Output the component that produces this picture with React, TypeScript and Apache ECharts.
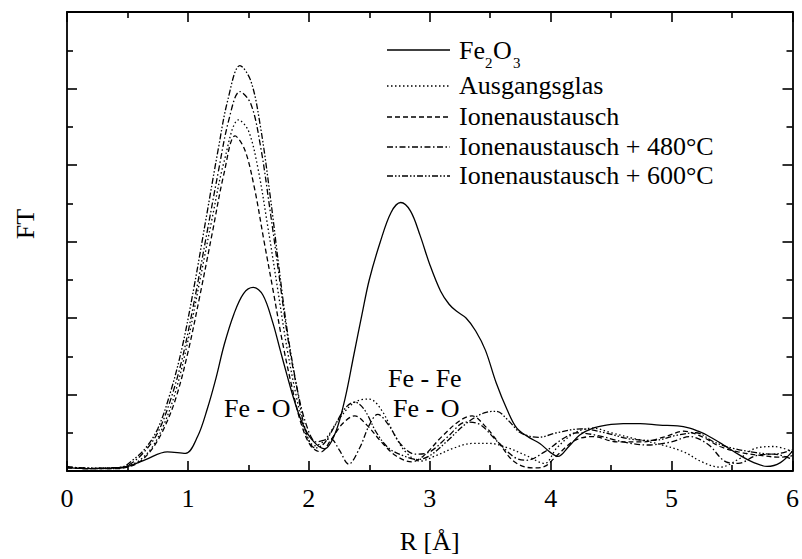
import React, { useEffect, useRef } from "react";
import * as echarts from "echarts";

// Radial distribution (Fourier transform magnitude) vs. R in Å
const fe2o3: number[][] = [
  [0, 0.04], [0.2, 0.03], [0.4, 0.04], [0.5, 0.06], [0.65, 0.15], [0.83, 0.25], [0.98, 0.23],
  [1.08, 0.45], [1.16, 0.81], [1.23, 1.2], [1.3, 1.65], [1.38, 2.05], [1.46, 2.32], [1.54, 2.4],
  [1.62, 2.3], [1.7, 1.95], [1.76, 1.6], [1.82, 1.25], [1.88, 0.92], [1.94, 0.65], [2.02, 0.42],
  [2.13, 0.29], [2.22, 0.5], [2.3, 0.95], [2.37, 1.5], [2.44, 2.05], [2.5, 2.5], [2.59, 2.99],
  [2.68, 3.38], [2.76, 3.51], [2.84, 3.4], [2.92, 3.08], [3.0, 2.7], [3.09, 2.35], [3.16, 2.18],
  [3.22, 2.09], [3.3, 2.0], [3.38, 1.83], [3.46, 1.58], [3.55, 1.15], [3.64, 0.8], [3.72, 0.56],
  [3.82, 0.44], [3.91, 0.36], [4.0, 0.24], [4.06, 0.19], [4.15, 0.32], [4.24, 0.47], [4.35, 0.56],
  [4.46, 0.6], [4.6, 0.62], [4.74, 0.62], [4.9, 0.6], [5.05, 0.59], [5.15, 0.56], [5.22, 0.52],
  [5.29, 0.47], [5.42, 0.35], [5.56, 0.21], [5.68, 0.11], [5.79, 0.06], [5.9, 0.11], [6.0, 0.26],
];

const ausgangsglas: number[][] = [
  [0, 0.05], [0.2, 0.04], [0.4, 0.04], [0.5, 0.06], [0.6, 0.14], [0.7, 0.3], [0.8, 0.6],
  [0.9, 1.05], [1.0, 1.7], [1.1, 2.5], [1.2, 3.3], [1.3, 4.05], [1.42, 4.59], [1.5, 4.45],
  [1.58, 3.95], [1.66, 3.2], [1.74, 2.4], [1.82, 1.6], [1.9, 0.95], [1.97, 0.5], [2.05, 0.33],
  [2.13, 0.4], [2.25, 0.68], [2.38, 0.9], [2.5, 0.94], [2.6, 0.8], [2.7, 0.5], [2.8, 0.25],
  [2.92, 0.13], [3.05, 0.2], [3.2, 0.3], [3.35, 0.36], [3.5, 0.36], [3.65, 0.3], [3.8, 0.2],
  [3.95, 0.1], [4.05, 0.3], [4.2, 0.5], [4.35, 0.56], [4.5, 0.5], [4.7, 0.42], [4.9, 0.35],
  [5.1, 0.25], [5.25, 0.12], [5.4, 0.05], [5.55, 0.15], [5.7, 0.3], [5.85, 0.32], [6.0, 0.25],
];

const ionenaustausch: number[][] = [
  [0, 0.04], [0.2, 0.03], [0.4, 0.03], [0.5, 0.05], [0.6, 0.12], [0.7, 0.28], [0.8, 0.55],
  [0.9, 0.95], [1.0, 1.55], [1.1, 2.3], [1.2, 3.1], [1.3, 3.9], [1.39, 4.38], [1.47, 4.2],
  [1.55, 3.7], [1.63, 3.0], [1.7, 2.4], [1.78, 1.7], [1.86, 1.1], [1.94, 0.6], [2.02, 0.32],
  [2.1, 0.25], [2.18, 0.4], [2.28, 0.62], [2.38, 0.72], [2.48, 0.6], [2.6, 0.38], [2.72, 0.2],
  [2.85, 0.12], [2.95, 0.2], [3.1, 0.45], [3.25, 0.66], [3.35, 0.72], [3.45, 0.6], [3.58, 0.35],
  [3.7, 0.12], [3.85, 0.04], [3.95, 0.06], [4.05, 0.2], [4.2, 0.4], [4.35, 0.45], [4.55, 0.38],
  [4.75, 0.38], [4.95, 0.45], [5.1, 0.52], [5.25, 0.45], [5.4, 0.32], [5.55, 0.25], [5.75, 0.2],
  [5.9, 0.18], [6.0, 0.2],
];

const ionen480: number[][] = [
  [0, 0.05], [0.15, 0.04], [0.3, 0.03], [0.45, 0.04], [0.55, 0.12], [0.65, 0.27], [0.75, 0.5],
  [0.85, 0.9], [0.95, 1.45], [1.05, 2.2], [1.15, 3.05], [1.25, 3.9], [1.34, 4.6], [1.43, 4.96],
  [1.52, 4.8], [1.6, 4.25], [1.68, 3.4], [1.75, 2.6], [1.82, 1.8], [1.9, 1.1], [1.98, 0.6],
  [2.06, 0.38], [2.12, 0.4], [2.18, 0.42], [2.25, 0.28], [2.33, 0.09], [2.42, 0.3], [2.5, 0.6],
  [2.57, 0.74], [2.66, 0.6], [2.76, 0.35], [2.88, 0.22], [3.0, 0.25], [3.15, 0.45], [3.3, 0.64],
  [3.4, 0.62], [3.55, 0.4], [3.7, 0.18], [3.8, 0.14], [3.95, 0.25], [4.1, 0.42], [4.22, 0.5],
  [4.4, 0.46], [4.6, 0.38], [4.8, 0.34], [5.0, 0.38], [5.15, 0.45], [5.3, 0.35], [5.45, 0.12],
  [5.55, 0.1], [5.7, 0.2], [5.85, 0.22], [6.0, 0.15],
];

const ionen600: number[][] = [
  [0, 0.06], [0.15, 0.03], [0.3, 0.04], [0.45, 0.05], [0.55, 0.15], [0.65, 0.3], [0.75, 0.55],
  [0.85, 1.0], [0.95, 1.6], [1.05, 2.4], [1.15, 3.3], [1.25, 4.2], [1.33, 4.85], [1.43, 5.3],
  [1.52, 5.1], [1.6, 4.5], [1.68, 3.6], [1.75, 2.7], [1.82, 1.85], [1.9, 1.1], [1.97, 0.55],
  [2.05, 0.3], [2.12, 0.35], [2.2, 0.55], [2.3, 0.82], [2.38, 0.9], [2.46, 0.8], [2.56, 0.5],
  [2.66, 0.3], [2.78, 0.2], [2.9, 0.15], [3.0, 0.2], [3.15, 0.4], [3.3, 0.62], [3.45, 0.76],
  [3.55, 0.78], [3.65, 0.66], [3.75, 0.5], [3.9, 0.44], [4.05, 0.5], [4.25, 0.55], [4.45, 0.5],
  [4.65, 0.42], [4.85, 0.4], [5.05, 0.47], [5.2, 0.5], [5.35, 0.38], [5.5, 0.3], [5.7, 0.24],
  [5.85, 0.22], [6.0, 0.28],
];

const xTicks = [0, 1, 2, 3, 4, 5, 6];

const FONT = "Liberation Serif";
const FS = 26;

const DASH_SOLID: number[] | null = null;
const DASH_DOT = [1.5, 2.5];
const DASH_DASH = [5, 3];
const DASH_DASHDOT = [6, 2.5, 1.5, 2.5];
const DASH_DASHDOTDOT = [6, 2, 1.5, 2, 1.5, 2];

const seriesDefs = [
  { name: "Fe2O3", data: fe2o3, dash: DASH_SOLID },
  { name: "Ausgangsglas", data: ausgangsglas, dash: DASH_DOT },
  { name: "Ionenaustausch", data: ionenaustausch, dash: DASH_DASH },
  { name: "Ionenaustausch + 480°C", data: ionen480, dash: DASH_DASHDOT },
  { name: "Ionenaustausch + 600°C", data: ionen600, dash: DASH_DASHDOTDOT },
];

const legendRows = [50, 86, 117, 147, 176];

export default function App() {
  const ref = useRef<HTMLDivElement>(null);

  useEffect(() => {
    if (!ref.current) return;
    const chart = echarts.init(ref.current, undefined, { renderer: "svg" });

    const axisCommon = {
      type: "value" as const,
      min: 0,
      max: 6,
      interval: 1,
      axisLine: { show: true, onZero: false, lineStyle: { color: "#000", width: 1.8 } },
      axisTick: { show: true, inside: true, length: 10, lineStyle: { color: "#000", width: 1.6 } },
      minorTick: { show: true, splitNumber: 2, length: 6, lineStyle: { color: "#000", width: 1.6 } },
      splitLine: { show: false },
    };

    const txt = (text: string, x: number, y: number, size = FS) => ({
      type: "text",
      x,
      y,
      style: { text, fontFamily: FONT, fontSize: size, fill: "#000", align: "left", verticalAlign: "middle" },
    });

    const legendGraphics: any[] = [];
    seriesDefs.forEach((s, i) => {
      const y = legendRows[i];
      legendGraphics.push({
        type: "line",
        shape: { x1: 387, y1: y, x2: 450, y2: y },
        style: { stroke: "#000", lineWidth: 1.3, lineDash: s.dash || undefined },
      });
    });
    // Fe2O3 with subscripts, composed piece by piece
    legendGraphics.push(txt("Fe", 459, legendRows[0]));
    legendGraphics.push(txt("2", 485, legendRows[0] + 13, 15));
    legendGraphics.push(txt("O", 493, legendRows[0]));
    legendGraphics.push(txt("3", 513, legendRows[0] + 13, 15));
    seriesDefs.slice(1).forEach((s, i) => {
      legendGraphics.push(txt(s.name, 459, legendRows[i + 1] - 1));
    });

    chart.setOption({
      animation: false,
      backgroundColor: "#fff",
      grid: { left: 67, right: 9, top: 12, bottom: 79, containLabel: false },
      xAxis: [
        {
          ...axisCommon,
          position: "bottom",
          axisLabel: {
            show: true,
            margin: 14,
            fontFamily: FONT,
            fontSize: FS,
            color: "#000",
            formatter: (v: number) => (xTicks.includes(v) ? String(v) : ""),
          },
          name: "R [Å]",
          nameLocation: "middle",
          nameGap: 57,
          nameTextStyle: { fontFamily: FONT, fontSize: FS, color: "#000" },
        },
        { ...axisCommon, position: "top", axisLabel: { show: false } },
      ],
      yAxis: [
        { ...axisCommon, position: "left", axisLabel: { show: false } },
        { ...axisCommon, position: "right", axisLabel: { show: false } },
      ],
      graphic: [
        {
          type: "text",
          x: 25,
          y: 224,
          rotation: Math.PI / 2,
          style: { text: "FT", fontFamily: FONT, fontSize: FS, fill: "#000", align: "center", verticalAlign: "middle" },
        },
        txt("Fe - O", 224, 408),
        txt("Fe - Fe", 388, 378),
        txt("Fe - O", 393, 408),
        ...legendGraphics,
      ],
      series: seriesDefs.map((s) => ({
        name: s.name,
        type: "line",
        xAxisIndex: 0,
        yAxisIndex: 0,
        data: s.data,
        smooth: 0.35,
        showSymbol: false,
        symbol: "none",
        clip: true,
        lineStyle: { color: "#000", width: 1.3, type: s.dash ? s.dash : "solid" },
      })),
    });

    return () => chart.dispose();
  }, []);

  return (
    <div
      ref={ref}
      style={{ position: "fixed", left: 0, top: 0, width: 802, height: 559, background: "#fff" }}
    />
  );
}
